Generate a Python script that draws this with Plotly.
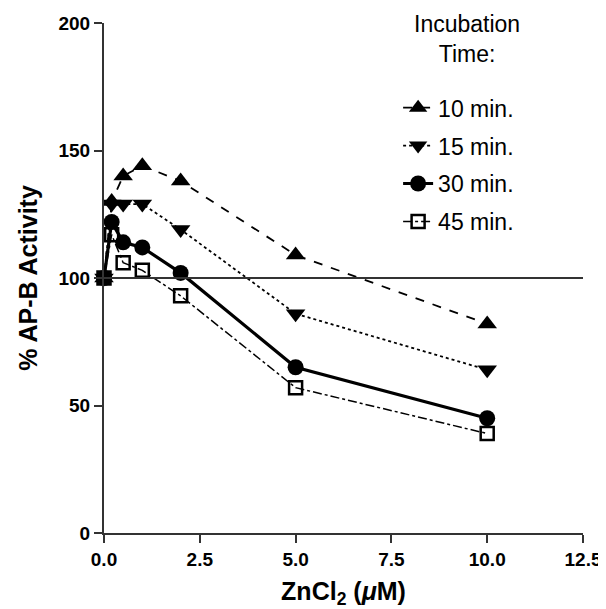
import plotly.graph_objects as go

zncl2 = [0, 0.2, 0.5, 1, 2, 5, 10]
act_10 = [100, 130, 140, 144, 138, 109, 82]
act_15 = [100, 129, 129, 129, 119, 86, 64]
act_30 = [100, 122, 114, 112, 102, 65, 45]
act_45 = [100, 117, 106, 103, 93, 57, 39]
series_names = ["10 min.", "15 min.", "30 min.", "45 min."]
baseline = 100

x_ticks = [0, 2.5, 5, 7.5, 10, 12.5]
x_tick_labels = ["0.0", "2.5", "5.0", "7.5", "10.0", "12.5"]
y_ticks = [0, 50, 100, 150, 200]

FONT = "Liberation Sans, Arial, sans-serif"
INK = "black"
AX = "#333"

styles = [
    dict(symbol="triangle-up", size=17, dash="dash", width=1.8),
    dict(symbol="triangle-down", size=17, dash="dot", width=1.8),
    dict(symbol="circle", size=16, dash="solid", width=3.2),
    dict(symbol="square-open", size=13, dash="dashdot", width=1.5),
]
all_series = [act_10, act_15, act_30, act_45]

fig = go.Figure()
# draw the 45 min. series first so the filled markers sit on top of it
for i in [3, 0, 1, 2]:
    name, ys, st = series_names[i], all_series[i], styles[i]
    fig.add_trace(go.Scatter(
        x=zncl2, y=ys, name=name, mode="lines+markers",
        legendgroup=name, legendrank=i + 1,
        line=dict(color=INK, dash=st["dash"], width=st["width"]),
        marker=dict(symbol=st["symbol"], size=st["size"], color=INK,
                    line=dict(color=INK, width=2.5 if "open" in st["symbol"] else 0)),
        cliponaxis=False,
    ))

fig.add_shape(type="line", xref="x domain", yref="y", x0=0, x1=1, y0=baseline, y1=baseline,
              line=dict(color=AX, width=2))

fig.add_annotation(text="Incubation<br>Time:", xref="paper", yref="paper",
                   x=0.758, y=1.028, xanchor="center", yanchor="top", showarrow=False,
                   font=dict(family=FONT, size=23, color=INK))

# the page body has an 8 px margin, so the figure is made 8 px smaller on each side
fig.update_layout(
    width=598, height=601,
    paper_bgcolor="white", plot_bgcolor="white",
    margin=dict(l=96, r=23, t=15, b=76),
    font=dict(family=FONT, color=INK),
    showlegend=True,
    legend=dict(x=0.614, y=0.876, xanchor="left", yanchor="top",
                bgcolor="rgba(0,0,0,0)", font=dict(family=FONT, size=23, color=INK),
                tracegroupgap=5, traceorder="grouped", itemwidth=30),
    xaxis=dict(range=[0, 12.5], tickvals=x_ticks, ticktext=x_tick_labels, automargin=False,
               showgrid=False, zeroline=False, showline=True, linecolor=AX, linewidth=2,
               ticks="outside", ticklen=8, tickwidth=2, tickcolor=AX,
               tickfont=dict(family=FONT, size=19, color=INK, weight="bold"),
               title=dict(text="ZnCl<sub>2</sub> (<i>μ</i>M)", standoff=16,
                          font=dict(family=FONT, size=25, color=INK, weight="bold"))),
    yaxis=dict(range=[0, 200], tickvals=y_ticks, automargin=False,
               showgrid=False, zeroline=False, showline=True, linecolor=AX, linewidth=2,
               ticks="outside", ticklen=8, tickwidth=2, tickcolor=AX,
               tickfont=dict(family=FONT, size=19, color=INK, weight="bold"),
               title=dict(text="% AP-B Activity", standoff=14,
                          font=dict(family=FONT, size=25, color=INK, weight="bold"))),
)

fig.write_html("out.html")
